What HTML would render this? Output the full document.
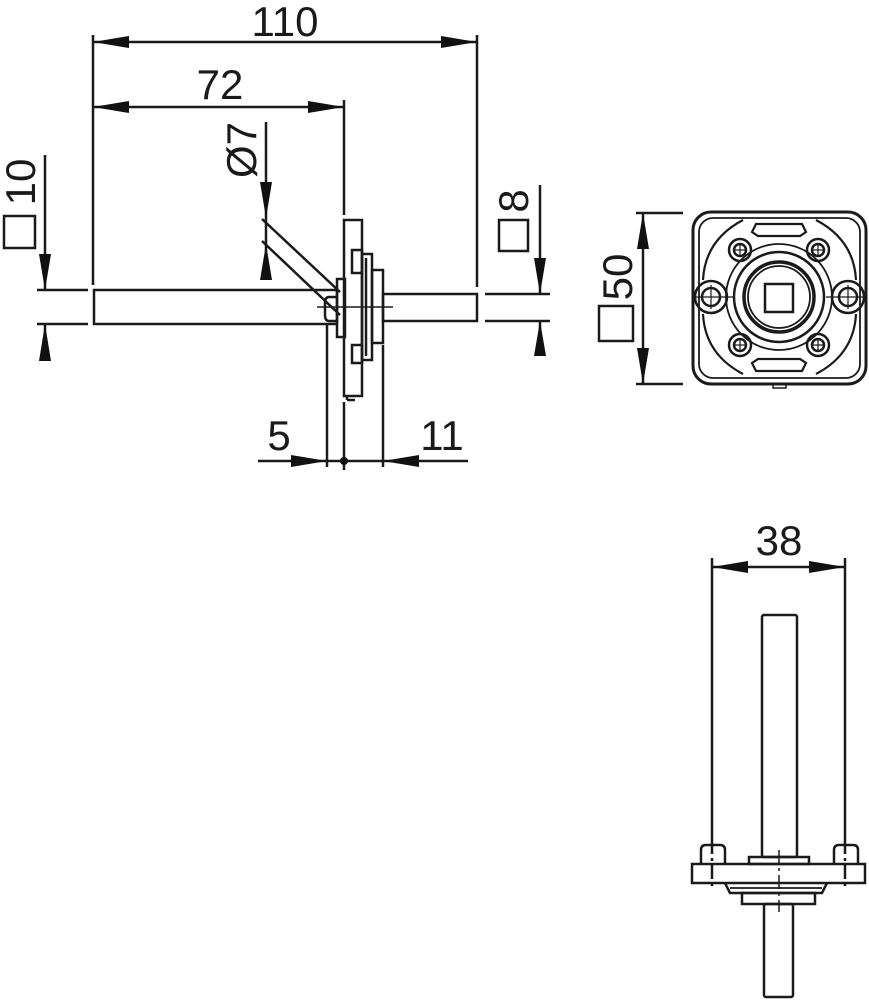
<!DOCTYPE html>
<html><head><meta charset="utf-8"><style>
html,body{margin:0;padding:0;background:#fff;}
svg{display:block;}
text{font-family:"Liberation Sans",sans-serif;fill:#1a1a1a;}
</style></head><body>
<svg width="869" height="1000" viewBox="0 0 869 1000" xmlns="http://www.w3.org/2000/svg">
<g stroke="#1a1a1a" stroke-width="2.5" fill="none">
<line x1="93" y1="35" x2="93" y2="285"/>
<line x1="477" y1="35" x2="477" y2="287"/>
<line x1="93" y1="42" x2="477" y2="42"/>
<line x1="93" y1="107" x2="344" y2="107"/>
<line x1="344" y1="100" x2="344" y2="215"/>
<line x1="344" y1="402" x2="344" y2="470"/>
<rect x="94" y="290" width="243" height="34"/>
<line x1="37" y1="290" x2="88" y2="290"/><line x1="37" y1="324" x2="88" y2="324"/>
<line x1="45" y1="155" x2="45" y2="290"/><line x1="45" y1="324" x2="45" y2="361"/>
<rect x="383" y="294" width="94" height="27"/>
<line x1="485" y1="294" x2="550" y2="294"/><line x1="485" y1="321" x2="550" y2="321"/>
<line x1="540" y1="185" x2="540" y2="294"/><line x1="540" y1="321" x2="540" y2="355"/>
<rect x="344" y="220" width="18" height="176"/>
<line x1="347" y1="396" x2="347" y2="400"/><line x1="347" y1="400" x2="355" y2="400"/>
<rect x="352" y="250" width="10" height="23"/>
<rect x="352" y="345" width="10" height="18"/>
<rect x="362" y="254" width="10" height="106"/>
<line x1="366" y1="258" x2="366" y2="356"/>
<rect x="372" y="270" width="11" height="73"/>
<rect x="337" y="279" width="8" height="58"/>
<path d="M337,297 h-8 q-4,0 -4,6 v12 q0,6 4,6 h8"/>
<line x1="317" y1="307" x2="393" y2="307" stroke-width="1.5"/>
<line x1="266" y1="122" x2="266" y2="280"/>
<line x1="262" y1="219" x2="340" y2="292"/>
<line x1="262" y1="241" x2="340" y2="315"/>
<line x1="327" y1="323" x2="327" y2="467"/>
<line x1="383" y1="345" x2="383" y2="467"/>
<line x1="258" y1="461" x2="468" y2="461"/>
<line x1="636" y1="213" x2="683" y2="213"/><line x1="636" y1="384" x2="683" y2="384"/>
<line x1="643" y1="213" x2="643" y2="384"/>
<rect x="693" y="212" width="173" height="172" rx="18" stroke-width="3"/>
<rect x="699" y="218" width="161" height="160" rx="14" stroke-width="1.8"/>
<circle cx="779" cy="297" r="45"/>
<circle cx="779" cy="297" r="53" stroke-width="1.8"/>
<circle cx="779" cy="297" r="35" stroke-width="3.5"/>
<circle cx="779" cy="297" r="31" stroke-width="1.8"/>
<rect x="765" y="284" width="28" height="28"/>
<g stroke-width="2.5">
<circle cx="711" cy="297" r="16"/><circle cx="711" cy="297" r="9"/>
<line x1="692" y1="297" x2="733" y2="297" stroke-width="1.2"/><line x1="711" y1="285" x2="711" y2="309" stroke-width="1.2"/>
<circle cx="848" cy="297" r="16"/><circle cx="848" cy="297" r="9"/>
<line x1="826" y1="297" x2="867" y2="297" stroke-width="1.2"/><line x1="848" y1="285" x2="848" y2="309" stroke-width="1.2"/>
<circle cx="740" cy="250" r="11"/><circle cx="740" cy="250" r="6"/><line x1="734" y1="250" x2="746" y2="250" stroke-width="1.2"/><line x1="740" y1="244" x2="740" y2="256" stroke-width="1.2"/>
<circle cx="818" cy="250" r="11"/><circle cx="818" cy="250" r="6"/><line x1="812" y1="250" x2="824" y2="250" stroke-width="1.2"/><line x1="818" y1="244" x2="818" y2="256" stroke-width="1.2"/>
<circle cx="740" cy="345" r="11"/><circle cx="740" cy="345" r="6"/><line x1="734" y1="345" x2="746" y2="345" stroke-width="1.2"/><line x1="740" y1="339" x2="740" y2="351" stroke-width="1.2"/>
<circle cx="818" cy="345" r="11"/><circle cx="818" cy="345" r="6"/><line x1="812" y1="345" x2="824" y2="345" stroke-width="1.2"/><line x1="818" y1="339" x2="818" y2="351" stroke-width="1.2"/>
</g>
<path d="M756,224 h46 l4,8 l-6,4 h-42 l-6,-4 z" stroke-width="2.2"/>
<path d="M756,371 h46 l4,-8 l-6,-4 h-42 l-6,4 z" stroke-width="2.2"/>
<path d="M773,384 v4 h13 v-4" stroke-width="1.5"/>
<path d="M703,280 q2,-40 40,-60" stroke-width="2.2"/>
<path d="M856,280 q-2,-40 -40,-60" stroke-width="2.2"/>
<path d="M703,314 q2,40 40,60" stroke-width="2.2"/>
<path d="M856,314 q-2,40 -40,60" stroke-width="2.2"/>
<line x1="712" y1="558" x2="712" y2="840"/><line x1="845" y1="558" x2="845" y2="840"/>
<line x1="712" y1="567" x2="845" y2="567"/>
<line x1="712" y1="840" x2="712" y2="890" stroke-dasharray="14,4,3,4"/>
<line x1="845" y1="840" x2="845" y2="890" stroke-dasharray="14,4,3,4"/>
<rect x="762" y="615" width="35" height="242" rx="2"/>
<rect x="749" y="857" width="60" height="7"/>
<rect x="692" y="864" width="173" height="19"/>
<path d="M701,864 v-14 q0,-5 5,-5 h14 q5,0 5,5 v14"/>
<path d="M834,864 v-14 q0,-5 5,-5 h14 q5,0 5,5 v14"/>
<path d="M725,883 l5,10 h92 l5,-10"/>
<line x1="730" y1="888" x2="822" y2="888" stroke-width="1.8"/>
<rect x="742" y="893" width="73" height="11"/>
<rect x="764" y="904" width="29" height="93" rx="2"/>
<line x1="779" y1="850" x2="779" y2="912" stroke-dasharray="14,4,3,4" stroke-width="1.5"/>
</g>
<g fill="#111">
<path d="M93,42 l36,-6 v12 z"/><path d="M477,42 l-36,-6 v12 z"/>
<path d="M93,107 l36,-6 v12 z"/><path d="M344,107 l-36,-6 v12 z"/>
<path d="M45,290 l-6,-36 h12 z"/><path d="M45,324 l-6,37 h12 z"/>
<path d="M540,294 l-6,-36 h12 z"/><path d="M540,321 l-6,35 h12 z"/>
<path d="M266,218 l-6,-36 h12 z"/><path d="M266,244 l-6,36 h12 z"/>
<path d="M327,461 l-36,-6 v12 z"/><path d="M383,461 l36,-6 v12 z"/>
<circle cx="344" cy="461" r="4"/>
<path d="M643,213 l-6,36 h12 z"/><path d="M643,384 l-6,-36 h12 z"/>
<path d="M712,567 l36,-6 v12 z"/><path d="M845,567 l-36,-6 v12 z"/>
</g>
<text x="285" y="36" font-size="42" text-anchor="middle">110</text>
<text x="220" y="99" font-size="42" text-anchor="middle">72</text>
<text x="279" y="450" font-size="42" text-anchor="middle">5</text>
<text x="442" y="450" font-size="42" text-anchor="middle">11</text>
<text x="779" y="555" font-size="42" text-anchor="middle">38</text>
<text transform="translate(256,150) rotate(-90)" font-size="42" text-anchor="middle">Ø7</text>
<g stroke="#1a1a1a" stroke-width="2.5" fill="none">
<rect x="4" y="216" width="31" height="32"/>
<rect x="499" y="220" width="29" height="31"/>
<rect x="599" y="306" width="34" height="35"/>
</g>
<text transform="translate(35,182) rotate(-90)" font-size="42" text-anchor="middle">10</text>
<text transform="translate(528,201) rotate(-90)" font-size="42" text-anchor="middle">8</text>
<text transform="translate(632,277) rotate(-90)" font-size="42" text-anchor="middle">50</text>
</svg>
</body></html>
